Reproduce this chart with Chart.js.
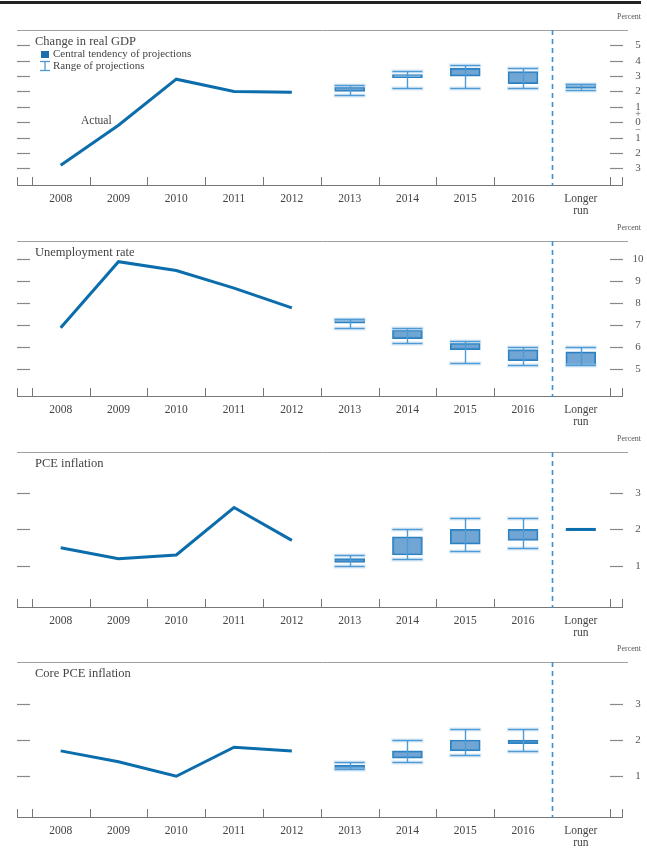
<!DOCTYPE html>
<html>
<head>
<meta charset="utf-8">
<script src="https://cdn.jsdelivr.net/npm/chart.js@4.4.0/dist/chart.umd.min.js"></script>
<style>
body { margin: 0; background: #fff; }
#wrap { position: relative; width: 647px; height: 850px; overflow: hidden; }
#topRule { position: absolute; left: 0; top: 1px; width: 641px; height: 3px; background: #222; }
canvas { position: absolute; left: 0; }
</style>
</head>
<body>
<div id="wrap">
  <div id="topRule"></div>
  <canvas id="gdpChart" width="647" height="222" style="top:0px"></canvas>
  <canvas id="unempChart" width="647" height="222" style="top:211px"></canvas>
  <canvas id="pceChart" width="647" height="222" style="top:422px"></canvas>
  <canvas id="coreChart" width="647" height="222" style="top:632px"></canvas>
</div>
<script>
const categories = ["2008", "2009", "2010", "2011", "2012", "2013", "2014", "2015", "2016", ["Longer", "run"]];
const actualIndex = [0, 1, 2, 3, 4];
const projIndex = [5, 6, 7, 8, 9];

// Change in real GDP
const gdpActual = [-2.8, -0.2, 2.8, 2.0, 1.95];
const gdpCentralLow = [2.0, 2.9, 3.0, 2.5, 2.2];
const gdpCentralHigh = [2.3, 3.1, 3.5, 3.3, 2.5];
const gdpRangeLow = [1.8, 2.2, 2.2, 2.2, 2.1];
const gdpRangeHigh = [2.4, 3.3, 3.7, 3.5, 2.5];
const gdpTicks = [5, 4, 3, 2, 1, 0, -1, -2, -3];
const gdpTickLabels = ["5", "4", "3", "2", "1", "0", "1", "2", "3"];

// Unemployment rate
const unempActual = [6.9, 9.9, 9.5, 8.7, 7.8];
const unempCentralLow = [7.1, 6.4, 5.9, 5.4, 5.2];
const unempCentralHigh = [7.3, 6.8, 6.2, 5.9, 5.8];
const unempRangeLow = [6.9, 6.2, 5.3, 5.2, 5.2];
const unempRangeHigh = [7.3, 6.9, 6.3, 6.0, 6.0];
const unempTicks = [10, 9, 8, 7, 6, 5];
const unempTickLabels = ["10", "9", "8", "7", "6", "5"];

// PCE inflation
const pceActual = [1.5, 1.2, 1.3, 2.6, 1.7];
const pceCentralLow = [1.1, 1.3, 1.6, 1.7, 2.0];
const pceCentralHigh = [1.2, 1.8, 2.0, 2.0, 2.0];
const pceRangeLow = [1.0, 1.2, 1.4, 1.5, 2.0];
const pceRangeHigh = [1.3, 2.0, 2.3, 2.3, 2.0];

// Core PCE inflation
const coreActual = [1.7, 1.4, 1.0, 1.8, 1.7];
const coreCentralLow = [1.2, 1.5, 1.7, 1.9, null];
const coreCentralHigh = [1.3, 1.7, 2.0, 2.0, null];
const coreRangeLow = [1.2, 1.4, 1.6, 1.7, null];
const coreRangeHigh = [1.4, 2.0, 2.3, 2.3, null];

const inflTicks = [3, 2, 1];
const inflTickLabels = ["3", "2", "1"];

const FONT = "'Liberation Serif', 'DejaVu Serif', serif";
const LINE_BLUE = "#0c6dac";
const BOX_FILL = "rgba(88, 150, 204, 0.85)";
const BOX_EDGE = "#2b82c2";
const RANGE_BLUE = "#4d9ad5";

function hline(ctx, x1, x2, y) {
    ctx.beginPath(); ctx.moveTo(x1, y); ctx.lineTo(x2, y); ctx.stroke();
}
function vline(ctx, x, y1, y2) {
    ctx.beginPath(); ctx.moveTo(x, y1); ctx.lineTo(x, y2); ctx.stroke();
}

const decor = {
    id: "decor",
    beforeDatasetsDraw(chart, args, opts) {
        const {ctx, chartArea: a, scales: {x, y}} = chart;
        ctx.save();

        // top rule and bottom axis
        ctx.strokeStyle = "#a0a0a0";
        ctx.lineWidth = 1;
        hline(ctx, a.left, a.right + 5, a.top + 0.5);
        ctx.strokeStyle = "#777";
        hline(ctx, a.left, a.right, a.bottom - 0.5);

        // category boundary ticks
        const tickXs = [a.left + 0.5, a.right - 0.5];
        for (let k = 0; k <= categories.length; k++) {
            if (k === categories.length - 1) continue;
            tickXs.push(Math.round(x.getPixelForValue(k - 0.5)) + 0.5);
        }
        tickXs.forEach(px => vline(ctx, px, a.bottom - 9, a.bottom));

        // y tick dashes on both sides, labels on the right
        ctx.strokeStyle = "#888";
        ctx.lineWidth = 1.2;
        ctx.fillStyle = "#555";
        ctx.font = "11px " + FONT;
        ctx.textAlign = "center";
        ctx.textBaseline = "middle";
        opts.ticks.forEach((v, i) => {
            const py = Math.round(y.getPixelForValue(v)) + 0.5;
            hline(ctx, a.left, a.left + 13, py);
            hline(ctx, a.right - 13, a.right, py);
            ctx.fillText(opts.tickLabels[i], a.right + 15, py);
        });
        if (opts.signs) {
            ctx.font = "10px " + FONT;
            ctx.fillText("+", a.right + 15, y.getPixelForValue(0.5));
            ctx.fillText("\u2212", a.right + 15, y.getPixelForValue(-0.5));
        }

        // "Percent"
        ctx.font = "8px " + FONT;
        ctx.textAlign = "right";
        ctx.fillText("Percent", 641, a.top - 13);

        // divider before longer run
        ctx.strokeStyle = "#3f8ed0";
        ctx.lineWidth = 1.6;
        ctx.setLineDash([5, 4]);
        const dx = Math.round(x.getPixelForValue(categories.length - 1.5)) + 0.5;
        vline(ctx, dx, a.top, a.bottom);
        ctx.setLineDash([]);

        // category labels
        ctx.fillStyle = "#444";
        ctx.font = "11.5px " + FONT;
        ctx.textAlign = "center";
        categories.forEach((c, i) => {
            const px = x.getPixelForValue(i);
            const lines = Array.isArray(c) ? c : [c];
            lines.forEach((t, j) => ctx.fillText(t, px, a.bottom + 13 + j * 12));
        });

        // panel title
        ctx.textAlign = "left";
        ctx.font = "12.5px " + FONT;
        ctx.fillStyle = "#444";
        ctx.fillText(opts.title, 35, a.top + 12);

        if (opts.legend) {
            ctx.fillStyle = "#1b6fae";
            ctx.fillRect(41, a.top + 21, 8, 7);
            ctx.strokeStyle = RANGE_BLUE;
            ctx.lineWidth = 1.3;
            hline(ctx, 40, 50, a.top + 31.5);
            hline(ctx, 40, 50, a.top + 40.5);
            vline(ctx, 45, a.top + 31.5, a.top + 40.5);
            ctx.fillStyle = "#444";
            ctx.font = "11px " + FONT;
            ctx.fillText("Central tendency of projections", 53, a.top + 24.5);
            ctx.fillText("Range of projections", 53, a.top + 36.5);
            ctx.font = "11.5px " + FONT;
            ctx.fillText("Actual", 81, y.getPixelForValue(0.05));
        }
        ctx.restore();
    },
    afterDatasetsDraw(chart, args, opts) {
        const {ctx, scales: {x, y}} = chart;
        ctx.save();
        projIndex.forEach((k, i) => {
            const lo = opts.rangeLow[i], hi = opts.rangeHigh[i];
            if (lo === null) return;
            const px = x.getPixelForValue(k);
            const cl = opts.centralLow[i], ch = opts.centralHigh[i];
            if (cl === ch) {
                ctx.strokeStyle = LINE_BLUE;
                ctx.lineWidth = 3;
                hline(ctx, px - 15, px + 15, y.getPixelForValue(cl));
                return;
            }
            const yl = Math.round(y.getPixelForValue(lo)) + 0.5;
            const yh = Math.round(y.getPixelForValue(hi)) + 0.5;
            // faint halo round the caps
            ctx.strokeStyle = "rgba(190, 218, 240, 0.6)";
            ctx.lineWidth = 4;
            hline(ctx, px - 16, px + 16, yl);
            hline(ctx, px - 16, px + 16, yh);
            ctx.strokeStyle = RANGE_BLUE;
            ctx.lineWidth = 1.4;
            hline(ctx, px - 15, px + 15, yl);
            hline(ctx, px - 15, px + 15, yh);
            vline(ctx, Math.round(px) + 0.5, yh, yl);
        });
        ctx.restore();
    }
};

function makePanel(id, p) {
    const line = actualIndex.map((k, i) => ({x: k, y: p.actual[i]}));
    const boxes = [];
    projIndex.forEach((k, i) => {
        if (p.centralLow[i] === null || p.centralLow[i] === p.centralHigh[i]) return;
        boxes.push({x: k, y: [p.centralLow[i], p.centralHigh[i]]});
    });
    return new Chart(document.getElementById(id), {
        data: {
            datasets: [
                {
                    type: "bar",
                    data: boxes,
                    backgroundColor: BOX_FILL,
                    borderColor: BOX_EDGE,
                    borderWidth: 1.5,
                    borderSkipped: false,
                    barThickness: 30,
                    order: 2
                },
                {
                    type: "line",
                    data: line,
                    borderColor: LINE_BLUE,
                    borderWidth: 3,
                    pointRadius: 0,
                    tension: 0,
                    borderCapStyle: "butt",
                    order: 1
                }
            ]
        },
        options: {
            responsive: false,
            animation: false,
            layout: {padding: {left: 17, right: 24, top: 30, bottom: 36}},
            scales: {
                x: {type: "linear", min: -0.756, max: 9.73, offset: false, display: false},
                y: {type: "linear", min: p.yMin, max: p.yMax, display: false}
            },
            plugins: {
                legend: {display: false},
                tooltip: {enabled: false},
                decor: {
                    title: p.title,
                    ticks: p.ticks,
                    tickLabels: p.tickLabels,
                    signs: !!p.signs,
                    legend: !!p.legend,
                    centralLow: p.centralLow,
                    centralHigh: p.centralHigh,
                    rangeLow: p.rangeLow,
                    rangeHigh: p.rangeHigh
                }
            }
        },
        plugins: [decor]
    });
}

makePanel("gdpChart", {
    title: "Change in real GDP", legend: true, signs: true,
    actual: gdpActual, centralLow: gdpCentralLow, centralHigh: gdpCentralHigh,
    rangeLow: gdpRangeLow, rangeHigh: gdpRangeHigh,
    ticks: gdpTicks, tickLabels: gdpTickLabels, yMin: -4.15, yMax: 6
});
makePanel("unempChart", {
    title: "Unemployment rate",
    actual: unempActual, centralLow: unempCentralLow, centralHigh: unempCentralHigh,
    rangeLow: unempRangeLow, rangeHigh: unempRangeHigh,
    ticks: unempTicks, tickLabels: unempTickLabels, yMin: 3.75, yMax: 10.84
});
makePanel("pceChart", {
    title: "PCE inflation",
    actual: pceActual, centralLow: pceCentralLow, centralHigh: pceCentralHigh,
    rangeLow: pceRangeLow, rangeHigh: pceRangeHigh,
    ticks: inflTicks, tickLabels: inflTickLabels, yMin: -0.15, yMax: 4.12
});
makePanel("coreChart", {
    title: "Core PCE inflation",
    actual: coreActual, centralLow: coreCentralLow, centralHigh: coreCentralHigh,
    rangeLow: coreRangeLow, rangeHigh: coreRangeHigh,
    ticks: inflTicks, tickLabels: inflTickLabels, yMin: -0.15, yMax: 4.15
});
</script>
</body>
</html>
